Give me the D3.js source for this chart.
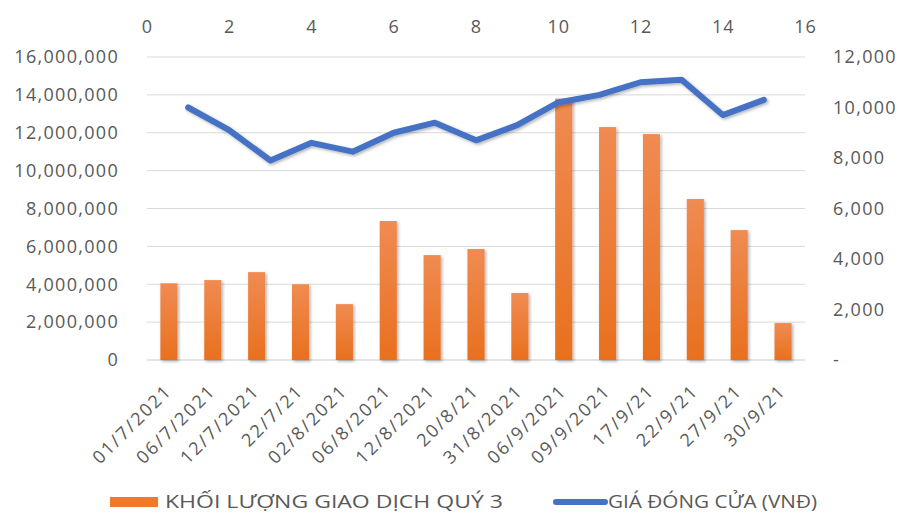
<!doctype html>
<html lang="vi">
  <head>
    <meta charset="utf-8">
    <title>Khối lượng giao dịch quý 3</title>
    <script src="https://d3js.org/d3.v7.min.js"></script>
    <style>
      body { margin: 0; background: #fff; }
      text { font-family: "Open Sans", "Noto Sans", sans-serif; fill: #595959; }
    </style>
  </head>
  <body>
    <div id="container"></div>
    <script>
      // data
      const dates = ["01/7/2021", "06/7/2021", "12/7/2021", "22/7/21", "02/8/2021", "06/8/2021", "12/8/2021",
        "20/8/21", "31/8/2021", "06/9/2021", "09/9/2021", "17/9/21", "22/9/21", "27/9/21", "30/9/21"]
      const volumes = [4050000, 4220000, 4640000, 4000000, 2950000, 7340000, 5540000, 5860000,
        3540000, 13800000, 12300000, 11930000, 8500000, 6860000, 1950000]
      const prices = [10000, 9100, 7900, 8600, 8250, 9000, 9400, 8700, 9300, 10200, 10500, 11000, 11100, 9700, 10300]
      const leftTicks = [0, 2000000, 4000000, 6000000, 8000000, 10000000, 12000000, 14000000, 16000000]
      const rightTicks = [0, 2000, 4000, 6000, 8000, 10000, 12000]
      const topTicks = [0, 2, 4, 6, 8, 10, 12, 14, 16]
      const volumeLabel = "KHỐI LƯỢNG GIAO  DỊCH QUÝ 3"
      const priceLabel = "GIÁ ĐÓNG CỬA (VNĐ)"

      const width = 899
      const height = 514
      const margin = {top: 57, right: 94, bottom: 154, left: 147}
      const innerW = width - margin.left - margin.right
      const innerH = height - margin.top - margin.bottom

      const svg = d3.select("#container")
        .append("svg")
          .attr("width", width)
          .attr("height", height)

      const defs = svg.append("defs")
      const grad = defs.append("linearGradient")
        .attr("id", "barGrad").attr("x1", 0).attr("y1", 0).attr("x2", 0).attr("y2", 1)
      grad.append("stop").attr("offset", "0%").attr("stop-color", "#f08b52")
      grad.append("stop").attr("offset", "100%").attr("stop-color", "#e8701e")
      const shadow = defs.append("filter").attr("id", "shadow")
        .attr("x", "-20%").attr("y", "-20%").attr("width", "140%").attr("height", "140%")
      shadow.append("feDropShadow").attr("dx", 1.5).attr("dy", 1.5).attr("stdDeviation", 1.5)
        .attr("flood-color", "#000").attr("flood-opacity", 0.3)

      const g = svg.append("g").attr("transform", `translate(${margin.left},${margin.top})`)

      const x = d3.scaleBand().domain(dates).range([0, innerW]).paddingInner(0.61).paddingOuter(0.305)
      const xTop = d3.scaleLinear().domain([0, 16]).range([0, innerW])
      const yLeft = d3.scaleLinear().domain([0, 16000000]).range([innerH, 0])
      const yRight = d3.scaleLinear().domain([0, 12000]).range([innerH, 0])

      // gridlines
      g.append("g")
        .selectAll("line")
        .data(leftTicks)
        .join("line")
          .attr("x1", 0).attr("x2", innerW)
          .attr("y1", d => yLeft(d)).attr("y2", d => yLeft(d))
          .attr("stroke", d => d === 0 ? "#c8c8c8" : "#d9d9d9")
          .attr("stroke-width", 1)

      // left axis
      const leftAxis = g.append("g")
        .call(d3.axisLeft(yLeft).tickValues(leftTicks).tickSize(0).tickPadding(28)
          .tickFormat(d3.format(",")))
      leftAxis.select(".domain").remove()
      leftAxis.selectAll("text").style("font-size", "18px").style("letter-spacing", "1.3px")

      // right axis
      const rightAxis = g.append("g")
        .attr("transform", `translate(${innerW},0)`)
        .call(d3.axisRight(yRight).tickValues(rightTicks).tickSize(0).tickPadding(28)
          .tickFormat(d => d === 0 ? "-" : d3.format(",")(d)))
      rightAxis.select(".domain").remove()
      rightAxis.selectAll("text").style("font-size", "18px").style("letter-spacing", "1.3px")

      // top axis
      const topAxis = g.append("g")
        .call(d3.axisTop(xTop).tickValues(topTicks).tickSize(0).tickPadding(24))
      topAxis.select(".domain").remove()
      topAxis.selectAll("text").style("font-size", "18px").style("letter-spacing", "1px")

      // bottom category labels
      const bottomAxis = g.append("g")
        .attr("transform", `translate(0,${innerH})`)
        .call(d3.axisBottom(x).tickSize(0).tickPadding(0))
      bottomAxis.select(".domain").remove()
      bottomAxis.selectAll("text")
        .style("font-size", "18px")
        .style("letter-spacing", "2px")
        .attr("text-anchor", "end")
        .attr("dy", 0)
        .attr("transform", "translate(4,32) rotate(-45)")

      // bars
      g.append("g")
        .selectAll("rect")
        .data(volumes)
        .join("rect")
          .attr("x", (d, i) => x(dates[i]))
          .attr("y", d => yLeft(d))
          .attr("width", x.bandwidth())
          .attr("height", d => innerH - yLeft(d))
          .attr("fill", "url(#barGrad)")
          .attr("filter", "url(#shadow)")

      // price line on the secondary x axis (1..15)
      const line = d3.line()
        .x((d, i) => xTop(i + 1))
        .y(d => yRight(d))
      g.append("path")
        .datum(prices)
        .attr("d", line)
        .attr("fill", "none")
        .attr("stroke", "#4472c4")
        .attr("stroke-width", 6)
        .attr("stroke-linejoin", "round")
        .attr("stroke-linecap", "round")
        .attr("filter", "url(#shadow)")

      // legend
      const legend = svg.append("g")
      legend.append("rect")
        .attr("x", 110).attr("y", 497).attr("width", 48).attr("height", 10)
        .attr("fill", "#ee7a2f")
      legend.append("text")
        .attr("x", 165).attr("y", 508)
        .style("font-size", "18px")
        .attr("textLength", 338).attr("lengthAdjust", "spacingAndGlyphs")
        .text(volumeLabel)
      legend.append("line")
        .attr("x1", 556).attr("x2", 605).attr("y1", 502).attr("y2", 502)
        .attr("stroke", "#4472c4").attr("stroke-width", 6).attr("stroke-linecap", "round")
      legend.append("text")
        .attr("x", 608).attr("y", 508)
        .style("font-size", "18px")
        .attr("textLength", 209).attr("lengthAdjust", "spacingAndGlyphs")
        .text(priceLabel)
    </script>
  </body>
</html>
